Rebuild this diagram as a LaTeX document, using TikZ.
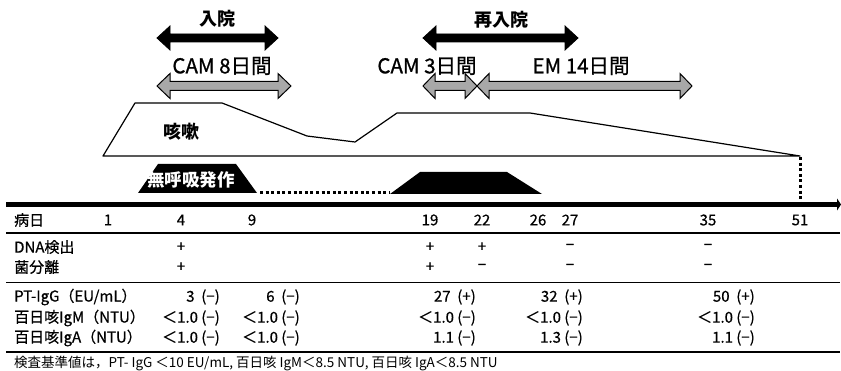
\documentclass[tikz,border=0pt]{standalone}
\usepackage{fontspec}
\setmainfont{Noto Sans CJK JP}
\newfontfamily\medfont[RawFeature={embolden=0.9}]{Noto Sans CJK JP}
\newfontfamily\tblfont[RawFeature={embolden=0.6}]{Noto Sans CJK JP}
\usetikzlibrary{arrows.meta}
\definecolor{arrgray}{HTML}{A8A8A8}
\newcommand{\dblarr}[7]{%
  \draw[#7] (#1,#3) -- ({#1+#6},{#3-#5}) -- ({#1+#6},{#3-#4}) -- ({#2-#6},{#3-#4}) -- ({#2-#6},{#3-#5}) -- (#2,#3)
   -- ({#2-#6},{#3+#5}) -- ({#2-#6},{#3+#4}) -- ({#1+#6},{#3+#4}) -- ({#1+#6},{#3+#5}) -- cycle;}
\newcommand{\gap}{\hspace{0.45em}}
\tikzset{
  toplbl/.style={inner sep=0pt, font=\fontsize{18}{20}\selectfont\bfseries},
  drug/.style={inner sep=0pt, font=\medfont\fontsize{20.5}{22}\selectfont},
  tbl/.style={inner sep=0pt, font=\tblfont\fontsize{15}{17}\selectfont},
  rowlbl/.style={tbl, anchor=west},
  val/.style={tbl, anchor=east},
  mk/.style={tbl},
  blackarr/.style={fill=black, draw=black, line width=0.8pt, line join=miter},
  grayarr/.style={fill=arrgray, draw=black, line width=1pt, line join=miter},
  sepline/.style={line width=1.8pt},
  dots/.style={line width=3pt, dash pattern=on 3pt off 2.6pt}
}
\begin{document}
\begin{tikzpicture}[x=1pt,y=-1pt]
\useasboundingbox (0,0) rectangle (841,371);

% top arrows
\node[toplbl] (nyuin) at (217,19) {入院};
\dblarr{157}{278}{38}{4}{12}{13}{blackarr}
\node[drug] (cam8) at (222,66) {CAM 8日間};
\dblarr{157}{291}{86}{4.5}{12.5}{13}{grayarr}

\node[toplbl] (sainyuin) at (501,20) {再入院};
\dblarr{423}{578}{38}{4}{12}{13}{blackarr}
\node[drug] (cam3) at (427,66) {CAM 3日間};
\node[drug] (em14) at (581,66) {EM 14日間};
\dblarr{423}{477}{86}{4.5}{12.5}{12}{grayarr}
\dblarr{477}{692}{86}{4.5}{12.5}{12}{grayarr}

% cough
\draw[line width=1.2pt, line join=round] (103,156) -- (135,103) -- (222,103) -- (307,136) -- (355,142) -- (397,113) -- (530,113) -- (800,156) -- cycle;
\node[toplbl] (cough) at (181,132) {咳嗽};

% apnea
\fill (138,193) -- (158,164) -- (236,164) -- (257,193) -- cycle;
\node[toplbl, font=\fontsize{17.5}{19}\selectfont\bfseries, text=white] (apnea) at (191,180) {無呼吸発作};
\coordinate (d1) at (260,193);
\coordinate (d2) at (390,193);
\draw[dots] (d1) -- (d2);
\fill (390,194) -- (420,172) -- (507,172) -- (542,194) -- cycle;
\coordinate (v1) at (800,157);
\coordinate (v2) at (800,202);
\draw[dots] (v1) -- (v2);

% timeline
\coordinate (t0) at (6,204.5);
\coordinate (t1) at (841,204.5);
\draw[line width=4.2pt, -{Triangle[length=4pt,width=12pt]}] (t0) -- (t1);

% day row
\node[rowlbl] (byojitsu) at (14,220) {病日};
\foreach \x/\d in {108/1,181/4,252/9,430/19,482/22,538/26,570/27,708/35,800/51}
  \node[mk] (day\d) at (\x,220) {\d};
\draw[sepline] (6,233) -- (840,233);

\node[rowlbl] (dna) at (14,247) {DNA検出};
\node[rowlbl] (kin) at (14,267) {菌分離};
\foreach \x/\s [count=\i] in {181/+,430/+,482/+,570/−,708/−}
  \node[mk] (dna\i) at (\x,247) {\s};
\foreach \x/\s [count=\i] in {181/+,430/+,482/−,570/−,708/−}
  \node[mk] (kin\i) at (\x,267) {\s};
\draw[sepline] (6,282.5) -- (840,282.5);

\node[rowlbl] (ptigg) at (14,297) {PT-IgG（EU/mL）};
\node[rowlbl] (igm) at (14,318) {百日咳IgM（NTU）};
\node[rowlbl] (iga) at (14,338) {百日咳IgA（NTU）};

\node[val] (p1) at (220,297) {3\gap(−)};
\node[val] (p2) at (300,297) {6\gap(−)};
\node[val] (p3) at (476,297) {27\gap(+)};
\node[val] (p4) at (583,297) {32\gap(+)};
\node[val] (p5) at (755,297) {50\gap(+)};

\node[val] (m1) at (220,318) {＜1.0 (−)};
\node[val] (m2) at (300,318) {＜1.0 (−)};
\node[val] (m3) at (476,318) {＜1.0 (−)};
\node[val] (m4) at (583,318) {＜1.0 (−)};
\node[val] (m5) at (755,318) {＜1.0 (−)};

\node[val] (a1) at (220,338) {＜1.0 (−)};
\node[val] (a2) at (300,338) {＜1.0 (−)};
\node[val] (a3) at (476,338) {1.1 (−)};
\node[val] (a4) at (583,338) {1.3 (−)};
\node[val] (a5) at (755,338) {1.1 (−)};
\draw[sepline] (6,352) -- (840,352);

\node[rowlbl, font=\fontsize{13.5}{15}\selectfont] (note) at (14,363) {検査基準値は，PT- IgG ＜10 EU/mL, 百日咳 IgM＜8.5 NTU, 百日咳 IgA＜8.5 NTU};
\end{tikzpicture}
\end{document}
